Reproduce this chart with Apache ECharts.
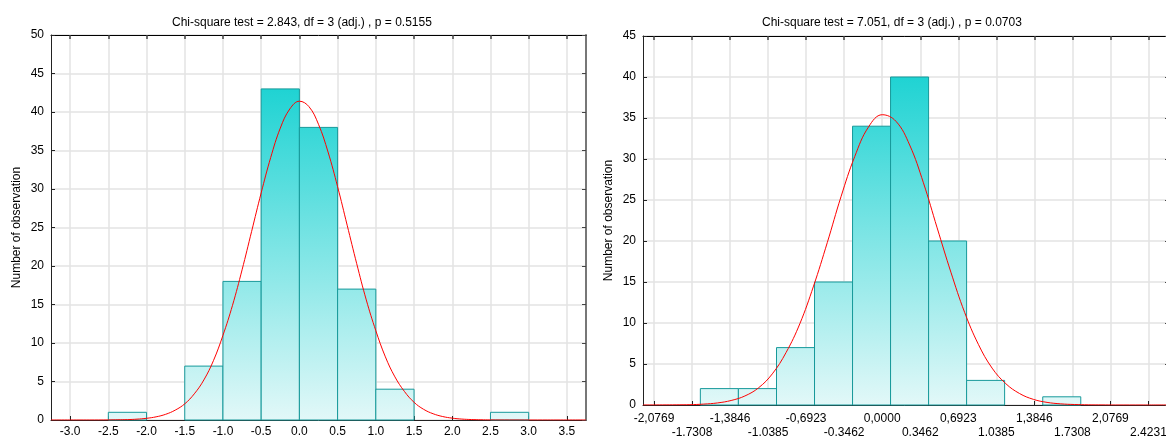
<!DOCTYPE html>
<html>
<head>
<meta charset="utf-8">
<script src="https://cdn.jsdelivr.net/npm/echarts@6/dist/echarts.min.js"></script>
<style>
    html, body { margin: 0; padding: 0; background: #fff; }
    #chart { width: 1166px; height: 437px; }
</style>
</head>
<body>
<div id="chart"></div>
<script>
// left panel - bins of 0.5
var leftEdges = [-2.5, -2.0, -1.5, -1.0, -0.5, 0.0, 0.5, 1.0, 1.5, 2.0, 2.5, 3.0];
var leftCounts = [1, 0, 7, 18, 43, 38, 17, 4, 0, 0, 1];
var leftTicks = [-3.0, -2.5, -2.0, -1.5, -1.0, -0.5, 0.0, 0.5, 1.0, 1.5, 2.0, 2.5, 3.0, 3.5];
var leftTickLabels = ['-3.0', '-2.5', '-2.0', '-1.5', '-1.0', '-0.5', '0.0', '0.5', '1.0', '1.5', '2.0', '2.5', '3.0', '3.5'];
var leftCurveX = [-3.25, -2.75, -2.5, -2.375, -2.25, -2.125, -2.0, -1.875, -1.75, -1.625, -1.5, -1.375, -1.25, -1.125, -1.0, -0.875, -0.75, -0.625, -0.5, -0.375, -0.25, -0.125, 0.0,
    0.125, 0.25, 0.375, 0.5, 0.625, 0.75, 0.875, 1.0, 1.125, 1.25, 1.375, 1.5, 1.625, 1.75, 1.875, 2.0, 2.125, 2.25, 2.375, 2.5, 2.75, 3.25, 3.75];
var leftCurveY = [0, 0, 0.01, 0.03, 0.05, 0.11, 0.22, 0.41, 0.74, 1.28, 2.1, 3.4, 5.2, 7.7, 11.0, 14.9, 19.5, 24.5, 29.5, 34.1, 37.9, 40.4, 41.4,
    40.7, 38.4, 34.8, 30.3, 25.3, 20.3, 15.6, 11.6, 8.2, 5.6, 3.7, 2.3, 1.39, 0.81, 0.45, 0.24, 0.12, 0.06, 0.03, 0.01, 0, 0, 0];

// right panel - bins of 0.3462, shifted from the ticks
var rightEdges = [-1.655, -1.309, -0.962, -0.616, -0.270, 0.076, 0.422, 0.768, 1.114, 1.461, 1.807];
var rightCounts = [2, 2, 7, 15, 34, 40, 20, 3, 0, 1];
var rightTicks = [-2.0769, -1.7308, -1.3846, -1.0385, -0.6923, -0.3462, 0.0, 0.3462, 0.6923, 1.0385, 1.3846, 1.7308, 2.0769, 2.4231];
// labels come in two rows: upper row with comma, lower row with dot
var rightRow1Ticks = [-2.0769, -1.3846, -0.6923, 0.0, 0.6923, 1.3846, 2.0769];
var rightRow1Labels = ['-2,0769', '-1,3846', '-0,6923', '0,0000', '0,6923', '1,3846', '2,0769'];
var rightRow2Ticks = [-1.7308, -1.0385, -0.3462, 0.3462, 1.0385, 1.7308, 2.4231];
var rightRow2Labels = ['-1.7308', '-1.0385', '-0.3462', '0.3462', '1.0385', '1.7308', '2.4231'];
var rightCurveX = [-2.177, -2.0, -1.875, -1.75, -1.625, -1.5, -1.375, -1.25, -1.125, -1.0, -0.875, -0.75, -0.625, -0.5, -0.375, -0.25, -0.125, 0.0,
    0.125, 0.25, 0.375, 0.5, 0.625, 0.75, 0.875, 1.0, 1.125, 1.25, 1.375, 1.5, 1.625, 1.75, 1.875, 2.0, 2.125, 2.375, 2.61];
var rightCurveY = [0, 0.01, 0.02, 0.04, 0.11, 0.25, 0.55, 1.1, 2.1, 3.8, 6.4, 9.9, 14.5, 19.8, 25.4, 30.3, 33.9, 35.4,
    34.6, 31.7, 27.1, 21.6, 16.2, 11.3, 7.4, 4.5, 2.6, 1.4, 0.69, 0.32, 0.14, 0.06, 0.02, 0.01, 0, 0, 0];

var FONT = "'Liberation Sans', Arial, sans-serif";

function binData(edges, counts) {
    var out = [];
    for (var i = 0; i < counts.length; i++) {
        out.push([edges[i], edges[i + 1], counts[i]]);
    }
    return out;
}

function pairs(xs, ys) {
    return xs.map(function (x, i) { return [x, ys[i]]; });
}

function histItem(maxCount) {
    return function (params, api) {
        if (!api.value(2)) return null;
        var p0 = api.coord([api.value(0), api.value(2)]);
        var p1 = api.coord([api.value(1), 0]);
        var yTop = api.coord([0, maxCount])[1];
        return {
            type: 'rect',
            shape: { x: p0[0], y: p0[1], width: p1[0] - p0[0], height: p1[1] - p0[1] },
            style: {
                fill: {
                    type: 'linear', x: 0, y: yTop, x2: 0, y2: p1[1], global: true,
                    colorStops: [{ offset: 0, color: '#1fd3d3' }, { offset: 1, color: '#e2f8f8' }]
                },
                stroke: '#17999a',
                lineWidth: 1
            }
        };
    };
}

function labelFormatter(ticks, labels) {
    return function (v) {
        var i = ticks.indexOf(v);
        return i >= 0 ? labels[i] : String(v);
    };
}

function bottomAxis(grid, min, max, ticks, labTicks, labels, margin) {
    return {
        type: 'value', gridIndex: grid, position: 'bottom', min: min, max: max,
        axisLine: { show: true, onZero: false, lineStyle: { color: '#222', width: 1 } },
        axisTick: { show: true, inside: true, length: 4, customValues: ticks, lineStyle: { color: '#222' } },
        axisLabel: {
            customValues: labTicks, hideOverlap: false, showMinLabel: true, showMaxLabel: true,
            color: '#000', fontSize: 12, fontFamily: FONT, margin: margin,
            formatter: labelFormatter(labTicks, labels)
        },
        splitLine: { show: true, lineStyle: { color: '#e3e3e3', width: 1.5 } }
    };
}

// extra label row only, no line / ticks / grid
function labelRowAxis(grid, min, max, labTicks, labels, margin) {
    return {
        type: 'value', gridIndex: grid, position: 'bottom', min: min, max: max,
        axisLine: { show: false, onZero: false },
        axisTick: { show: false, customValues: labTicks },
        axisLabel: {
            customValues: labTicks, hideOverlap: false, showMinLabel: true, showMaxLabel: true,
            color: '#000', fontSize: 12, fontFamily: FONT, margin: margin,
            formatter: labelFormatter(labTicks, labels)
        },
        splitLine: { show: false }
    };
}

function topAxis(grid, min, max, ticks) {
    return {
        type: 'value', gridIndex: grid, position: 'top', min: min, max: max,
        axisLine: { show: true, onZero: false, lineStyle: { color: '#000', width: 1 } },
        axisTick: { show: true, inside: true, length: 4, customValues: ticks, lineStyle: { color: '#444', width: 1.5 } },
        axisLabel: { show: false },
        splitLine: { show: false }
    };
}

function leftAxis(grid, max) {
    return {
        type: 'value', gridIndex: grid, position: 'left', min: 0, max: max, interval: 5,
        name: 'Number of observation', nameLocation: 'middle', nameGap: 28,
        nameTextStyle: { color: '#000', fontSize: 12, fontFamily: FONT },
        axisLine: { show: true, onZero: false, lineStyle: { color: '#222', width: 1 } },
        axisTick: { show: true, inside: true, length: 4, lineStyle: { color: '#222' } },
        axisLabel: { color: '#000', fontSize: 12, fontFamily: FONT, margin: 7, hideOverlap: false },
        splitLine: { show: true, lineStyle: { color: '#e3e3e3', width: 1.5 } }
    };
}

function rightAxis(grid, max) {
    return {
        type: 'value', gridIndex: grid, position: 'right', min: 0, max: max, interval: 5,
        axisLine: { show: true, onZero: false, lineStyle: { color: '#777', width: 2 } },
        axisTick: { show: true, inside: true, length: 4, lineStyle: { color: '#444' } },
        axisLabel: { show: false },
        splitLine: { show: false }
    };
}

var chart = echarts.init(document.getElementById('chart'));
var option = {
    animation: false,
    backgroundColor: '#fff',
    title: [
        { text: 'Chi-square test = 2.843, df = 3 (adj.) , p = 0.5155', left: 167, top: 12,
          textStyle: { fontSize: 12, fontWeight: 'normal', color: '#000', fontFamily: FONT } },
        { text: 'Chi-square test = 7.051, df = 3 (adj.) , p = 0.0703', left: 757, top: 12,
          textStyle: { fontSize: 12, fontWeight: 'normal', color: '#000', fontFamily: FONT } }
    ],
    grid: [
        { left: 51, right: 580, top: 35, bottom: 17, outerBoundsMode: 'none' },
        { left: 643, right: -3, top: 36, bottom: 32, outerBoundsMode: 'none' }
    ],
    xAxis: [
        bottomAxis(0, -3.25, 3.75, leftTicks, leftTicks, leftTickLabels, 6),
        topAxis(0, -3.25, 3.75, leftTicks),
        bottomAxis(1, -2.177, 2.61, rightTicks, rightRow1Ticks, rightRow1Labels, 8),
        topAxis(1, -2.177, 2.61, rightTicks),
        labelRowAxis(1, -2.177, 2.61, rightRow2Ticks, rightRow2Labels, 22)
    ],
    yAxis: [
        leftAxis(0, 50),
        rightAxis(0, 50),
        leftAxis(1, 45),
        rightAxis(1, 45)
    ],
    series: [
        {
            type: 'custom', xAxisIndex: 0, yAxisIndex: 0,
            renderItem: histItem(43),
            encode: { x: [0, 1], y: 2 },
            data: binData(leftEdges, leftCounts), z: 2
        },
        {
            type: 'line', xAxisIndex: 0, yAxisIndex: 0,
            data: pairs(leftCurveX, leftCurveY),
            smooth: 0.4, showSymbol: false, symbol: 'none',
            lineStyle: { color: '#ff0000', width: 1 }, z: 3
        },
        {
            type: 'custom', xAxisIndex: 2, yAxisIndex: 2,
            renderItem: histItem(40),
            encode: { x: [0, 1], y: 2 },
            data: binData(rightEdges, rightCounts), z: 2
        },
        {
            type: 'line', xAxisIndex: 2, yAxisIndex: 2,
            data: pairs(rightCurveX, rightCurveY),
            smooth: 0.4, showSymbol: false, symbol: 'none',
            lineStyle: { color: '#ff0000', width: 1 }, z: 3
        }
    ]
};
chart.setOption(option);
window.onresize = chart.resize;
</script>
</body>
</html>
